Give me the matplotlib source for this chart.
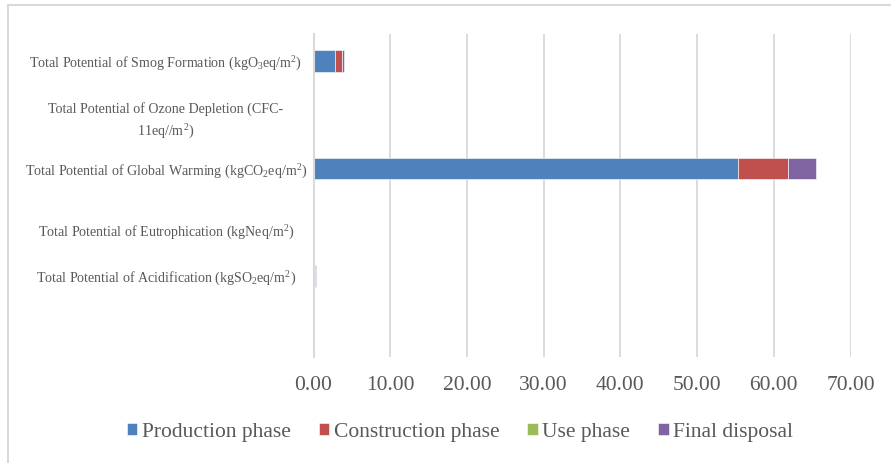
import matplotlib
matplotlib.use("Agg")
import matplotlib.pyplot as plt
import matplotlib.transforms as mtransforms
import numpy as np

plt.rcParams["font.family"] = ["Liberation Serif", "DejaVu Serif"]
plt.rcParams["mathtext.fontset"] = "custom"
plt.rcParams["mathtext.rm"] = "Liberation Serif"
plt.rcParams["mathtext.it"] = "Liberation Serif:italic"
plt.rcParams["mathtext.bf"] = "Liberation Serif:bold"

# Impact categories, top to bottom (last slot left empty)
categories = [
    r"Total Potential of Smog Formation (kgO$_3$eq/m$^2$)",
    "Total Potential of Ozone Depletion (CFC-\n" + r"11eq//m$^2$)",
    r"Total Potential of Global Warming (kgCO$_2$eq/m$^2$)",
    r"Total Potential of Eutrophication (kgNeq/m$^2$)",
    r"Total Potential of Acidification (kgSO$_2$eq/m$^2$)",
    "",
]

phases = ["Production phase", "Construction phase", "Use phase", "Final disposal"]
colors = ["#4F81BD", "#C0504D", "#9BBB59", "#8064A2"]

production = [2.83, 0.0, 55.3, 0.01, 0.20, 0.0]
construction = [0.90, 0.0, 6.6, 0.0, 0.03, 0.0]
use_phase = [0.0, 0.0, 0.0, 0.0, 0.0, 0.0]
final_disposal = [0.30, 0.0, 3.6, 0.0, 0.08, 0.0]
series = [production, construction, use_phase, final_disposal]

xticks = [0, 10, 20, 30, 40, 50, 60, 70]
xticklabels = [f"{v:.2f}" for v in xticks]

W, H = 891, 463
fig = plt.figure(figsize=(W / 100, H / 100), dpi=100)
ax = fig.add_axes([313.5 / W, 1 - 357 / H, (850.5 - 313.5) / W, (357 - 34) / H])

n = len(categories)
y = np.arange(n)
left = np.zeros(n)
for vals, name, col in zip(series, phases, colors):
    vals = np.array(vals)
    ax.barh(y, vals, left=left, height=0.4, color=col, label=name,
            edgecolor="white", linewidth=0.4, zorder=3)
    left += vals

ax.set_xlim(0, 70)
ax.set_ylim(n - 0.5, -0.5)
ax.set_xticks(xticks)
ax.set_xticklabels(xticklabels, fontsize=15.5, color="#595959")
ax.tick_params(axis="x", length=0, pad=14)
ax.set_yticks([])
ax.grid(axis="x", color="#D9D9D9", linewidth=1.3, zorder=0)
for s in ["top", "right", "bottom"]:
    ax.spines[s].set_visible(False)
ax.spines["left"].set_color("#D9D9D9")
ax.spines["left"].set_linewidth(1.5)
ax.spines["left"].set_zorder(4)

# Category labels centred in the label column
trans = mtransforms.blended_transform_factory(fig.transFigure, ax.transData)
label_shift = [0.06, 0.13, 0.06, 0.2, 0.05, 0.0]
for yi, lab, dy in zip(y, categories, label_shift):
    if lab:
        ax.text(166 / W, yi + dy, lab, transform=trans, ha="center", va="center",
                fontsize=10.1, color="#595959", linespacing=1.5)

leg = fig.legend(loc="center", bbox_to_anchor=(460 / W, 1 - 432 / H), ncol=4,
                 frameon=False, fontsize=15.5, handlelength=0.5, handleheight=0.5,
                 handletextpad=0.2, columnspacing=1.3)
for t in leg.get_texts():
    t.set_color("#595959")

# Chart frame
fig.add_artist(plt.Line2D([8 / W, 8 / W], [0, 1 - 5 / H], transform=fig.transFigure,
                          color="#D9D9D9", linewidth=1.5))
fig.add_artist(plt.Line2D([8 / W, 1], [1 - 5 / H, 1 - 5 / H], transform=fig.transFigure,
                          color="#D9D9D9", linewidth=1.5))

fig.savefig("out.png", dpi=100)
